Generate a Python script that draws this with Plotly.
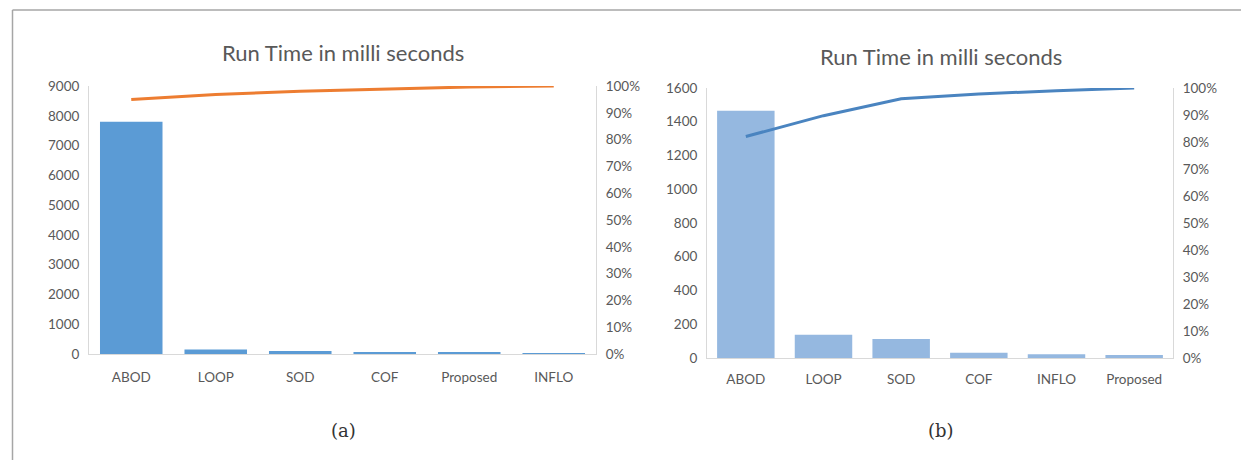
import plotly.graph_objects as go

W, H = 1241, 460

# Chart (a)
cats_a = ["ABOD", "LOOP", "SOD", "COF", "Proposed", "INFLO"]
vals_a = [7800, 150, 100, 70, 60, 30]
# Chart (b)
cats_b = ["ABOD", "LOOP", "SOD", "COF", "INFLO", "Proposed"]
vals_b = [1465, 138, 112, 31, 22, 18]

left_ticks_a = list(range(0, 9001, 1000))
left_ticks_b = list(range(0, 1601, 200))
title_text = "Run Time in milli seconds"


def cumulative(vals):
    tot = sum(vals)
    out, s = [], 0
    for v in vals:
        s += v
        out.append(s / tot)
    return out


# observed rendering: plot area is drawn ~444px tall starting ~8px from the top
TOP, HEFF = 8.0, 444.0


def px(x):
    return x / W


def py(y):
    return 1 - (y - TOP) / HEFF


FONT = "Lato, 'Open Sans', sans-serif"
GREY = "#595959"
AXC = "#D9D9D9"

fig = go.Figure()
fig.add_trace(go.Bar(x=cats_a, y=vals_a, marker=dict(color="#5B9BD5", line=dict(width=0)),
                     xaxis="x", yaxis="y", showlegend=False))
fig.add_trace(go.Scatter(x=cats_a, y=cumulative(vals_a), mode="lines",
                         line=dict(color="#ED7D31", width=3),
                         xaxis="x", yaxis="y2", showlegend=False))
fig.add_trace(go.Bar(x=cats_b, y=vals_b, marker=dict(color="#95B8E0", line=dict(width=0)),
                     xaxis="x2", yaxis="y3", showlegend=False))
fig.add_trace(go.Scatter(x=cats_b, y=cumulative(vals_b), mode="lines",
                         line=dict(color="#4A84C0", width=3),
                         xaxis="x2", yaxis="y4", showlegend=False))

tickfont = dict(family=FONT, size=13.5, color=GREY)

xcommon = dict(showgrid=False, zeroline=False, showline=True, linecolor=AXC, linewidth=1,
               ticks="", tickfont=tickfont, fixedrange=True)
ycommon = dict(showgrid=False, zeroline=False, showline=True, linecolor=AXC, linewidth=1,
               ticks="", tickfont=tickfont, fixedrange=True, ticklabelstandoff=6)

fig.update_layout(
    width=W, height=H,
    margin=dict(l=0, r=0, t=0, b=0),
    paper_bgcolor="white", plot_bgcolor="white",
    bargap=0.26,
    xaxis=dict(domain=[px(89), px(596)], anchor="y", ticklabelstandoff=11, **xcommon),
    yaxis=dict(domain=[py(354), py(86)], range=[0, 9000], tickvals=left_ticks_a,
               anchor="x", **ycommon),
    yaxis2=dict(domain=[py(354), py(86)], range=[0, 1], tickvals=[i / 10 for i in range(11)],
                tickformat=".0%", overlaying="y", side="right", anchor="x", **ycommon),
    xaxis2=dict(domain=[px(707), px(1173)], anchor="y3", ticklabelstandoff=9, **xcommon),
    yaxis3=dict(domain=[py(358), py(88)], range=[0, 1600], tickvals=left_ticks_b,
                anchor="x2", **ycommon),
    yaxis4=dict(domain=[py(358), py(88)], range=[0, 1], tickvals=[i / 10 for i in range(11)],
                tickformat=".0%", overlaying="y3", side="right", anchor="x2", **ycommon),
    annotations=[
        dict(text=title_text, x=px(343), y=py(53), xref="paper", yref="paper",
             showarrow=False, font=dict(family=FONT, size=22, color=GREY),
             xanchor="center", yanchor="middle"),
        dict(text=title_text, x=px(941), y=py(56), xref="paper", yref="paper",
             showarrow=False, font=dict(family=FONT, size=22, color=GREY),
             xanchor="center", yanchor="middle"),
        dict(text="(a)", x=px(343), y=py(430), xref="paper", yref="paper",
             showarrow=False, font=dict(family="'DejaVu Serif', serif", size=18, color="#333333"),
             xanchor="center", yanchor="middle"),
        dict(text="(b)", x=px(941), y=py(430), xref="paper", yref="paper",
             showarrow=False, font=dict(family="'DejaVu Serif', serif", size=18, color="#333333"),
             xanchor="center", yanchor="middle"),
    ],
    shapes=[
        dict(type="line", xref="paper", yref="paper", x0=px(12.5), x1=px(12.5), y0=py(470), y1=py(10),
             line=dict(color="#A6A6A6", width=1.5)),
        dict(type="line", xref="paper", yref="paper", x0=px(12.5), x1=1, y0=py(10), y1=py(10),
             line=dict(color="#A6A6A6", width=1.5)),
    ],
)

fig.write_html("out.html",
               post_script="document.body.style.margin='0';document.body.style.overflow='hidden';")
